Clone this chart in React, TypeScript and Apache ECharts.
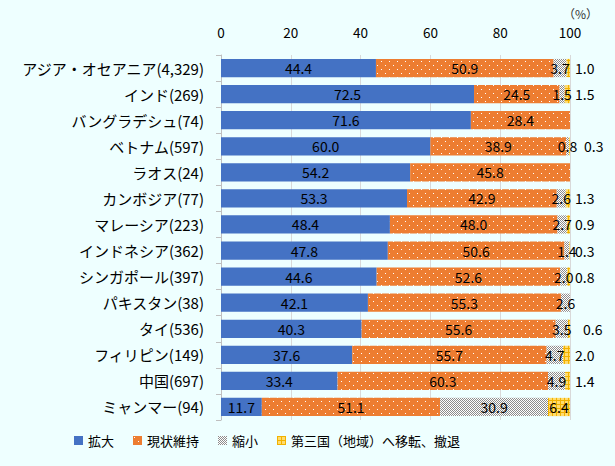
import React, { useEffect, useRef } from "react";
import * as echarts from "echarts";

const categories = [
  "アジア・オセアニア(4,329)",
  "インド(269)",
  "バングラデシュ(74)",
  "ベトナム(597)",
  "ラオス(24)",
  "カンボジア(77)",
  "マレーシア(223)",
  "インドネシア(362)",
  "シンガポール(397)",
  "パキスタン(38)",
  "タイ(536)",
  "フィリピン(149)",
  "中国(697)",
  "ミャンマー(94)",
];
const expand = [44.4, 72.5, 71.6, 60.0, 54.2, 53.3, 48.4, 47.8, 44.6, 42.1, 40.3, 37.6, 33.4, 11.7];
const maintain = [50.9, 24.5, 28.4, 38.9, 45.8, 42.9, 48.0, 50.6, 52.6, 55.3, 55.6, 55.7, 60.3, 51.1];
const shrink = [3.7, 1.5, 0, 0.8, 0, 2.6, 2.7, 1.4, 2.0, 2.6, 3.5, 4.7, 4.9, 30.9];
const relocate = [1.0, 1.5, 0, 0.3, 0, 1.3, 0.9, 0.3, 0.8, 0, 0.6, 2.0, 1.4, 6.4];
const seriesNames = ["拡大", "現状維持", "縮小", "第三国（地域）へ移転、撤退"];
const xTicks = [0, 20, 40, 60, 80, 100];

const FONT = '"Noto Sans CJK JP", "Noto Sans", sans-serif';

function makeTile(w: number, h: number, draw: (ctx: CanvasRenderingContext2D) => void) {
  const c = document.createElement("canvas");
  c.width = w;
  c.height = h;
  const ctx = c.getContext("2d")!;
  draw(ctx);
  return c;
}

export default function App() {
  const ref = useRef<HTMLDivElement>(null);
  useEffect(() => {
    if (!ref.current) return;
    const chart = echarts.init(ref.current, null, { renderer: "svg" });

    const orangeTile = makeTile(8, 8, (ctx) => {
      ctx.fillStyle = "#ED7D31";
      ctx.fillRect(0, 0, 8, 8);
      ctx.fillStyle = "#FFFFFF";
      ctx.fillRect(1, 1, 1, 1);
      ctx.fillRect(5, 5, 1, 1);
    });
    const grayTile = makeTile(2, 2, (ctx) => {
      ctx.fillStyle = "#FFFFFF";
      ctx.fillRect(0, 0, 2, 2);
      ctx.fillStyle = "#8C8C8C";
      ctx.fillRect(0, 0, 1, 1);
      ctx.fillRect(1, 1, 1, 1);
    });
    const yellowTile = makeTile(4, 4, (ctx) => {
      ctx.fillStyle = "#FFDC6E";
      ctx.fillRect(0, 0, 4, 4);
      ctx.fillStyle = "#F2B200";
      ctx.fillRect(0, 0, 4, 1);
      ctx.fillRect(0, 0, 1, 4);
    });

    const colors: any[] = [
      "#4472C4",
      { image: orangeTile, repeat: "repeat" },
      { image: grayTile, repeat: "repeat" },
      { image: yellowTile, repeat: "repeat" },
    ];
    const allValues = [expand, maintain, shrink, relocate];

    const labelBase = {
      color: "#000000",
      fontSize: 14,
      fontFamily: FONT,
      formatter: (p: any) => Number(p.value).toFixed(1),
    };

    const series = allValues.map((vals, si) => ({
      name: seriesNames[si],
      type: "bar",
      stack: "total",
      barCategoryGap: "30%",
      itemStyle: { color: colors[si] },
      label: { ...labelBase, show: true, position: "inside" },
      data: vals.map((v, i) => {
        const item: any = { value: v };
        if (v <= 0) {
          item.label = { show: false };
        } else if (si === 3 && v < 5) {
          const name = categories[i];
          const extra = name.startsWith("ベトナム") ? 14 : name.startsWith("タイ") ? 13 : 5;
          item.label = { show: true, position: "right", distance: extra };
        }
        return item;
      }),
    }));

    chart.setOption({
      animation: false,
      backgroundColor: "#EEFFFF",
      textStyle: { fontFamily: FONT },
      grid: { left: 221, right: 45, top: 55, bottom: 46, containLabel: false, outerBoundsMode: "none" },
      xAxis: {
        type: "value",
        position: "top",
        min: xTicks[0],
        max: xTicks[xTicks.length - 1],
        interval: 20,
        axisLine: { show: false },
        axisTick: { show: false },
        axisLabel: { color: "#000", fontSize: 13.5, fontFamily: FONT, margin: 16 },
        splitLine: { show: true, lineStyle: { color: "#D9D9D9", width: 1 } },
      },
      yAxis: {
        type: "category",
        inverse: true,
        data: categories,
        axisLine: { show: true, lineStyle: { color: "#BFBFBF" } },
        axisTick: { show: true, length: 5, lineStyle: { color: "#BFBFBF" } },
        axisLabel: { color: "#000", fontSize: 15, fontFamily: FONT, margin: 17 },
      },
      legend: {
        left: 69,
        top: 429,
        icon: "rect",
        itemWidth: 9,
        itemHeight: 9,
        itemGap: 19,
        textStyle: { color: "#000", fontSize: 13, fontFamily: FONT },
        data: seriesNames,
      },
      graphic: [
        {
          type: "text",
          right: 17,
          top: 7,
          style: { text: "（%）", fill: "#333", fontSize: 12, fontFamily: FONT },
        },
      ],
      series,
    });
    return () => chart.dispose();
  }, []);
  return (
    <div
      ref={ref}
      style={{ position: "fixed", left: 0, top: 0, width: 615, height: 466 }}
    />
  );
}
